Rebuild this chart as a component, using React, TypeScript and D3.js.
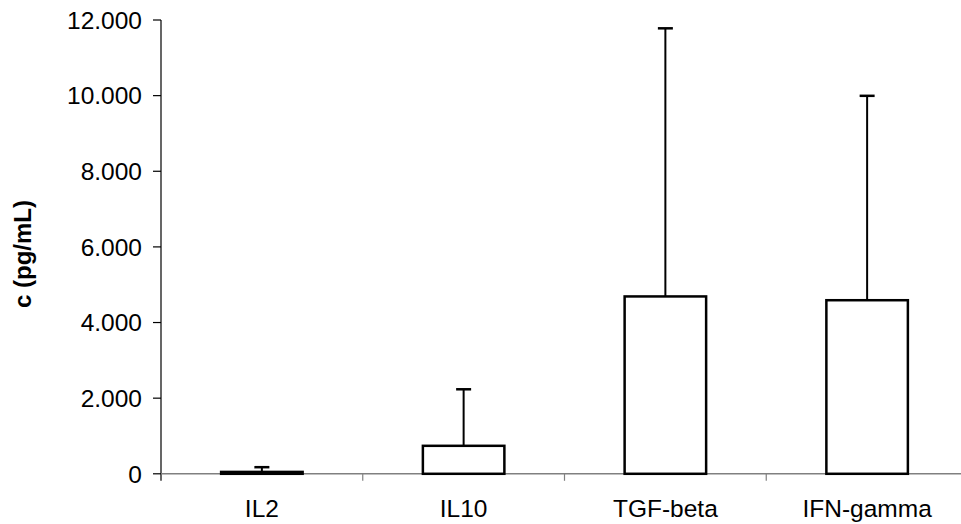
import React from "react";
import * as d3 from "d3";

const categories = ["IL2", "IL10", "TGF-beta", "IFN-gamma"];
const means = [50, 740, 4690, 4590];
const errTops = [175, 2235, 11780, 9995];
const yTicks = [0, 2000, 4000, 6000, 8000, 10000, 12000];
const yTickLabels = ["0", "2.000", "4.000", "6.000", "8.000", "10.000", "12.000"];

const W = 961;
const H = 524;
const FONT = "'Liberation Sans', Arial, sans-serif";

export default function App() {
  const x = d3.scaleBand<string>().domain(categories).range([161, 968]).paddingInner(0.596).paddingOuter(0.298);
  const y = d3.scaleLinear().domain([0, 12000]).range([473.8, 20]);
  const bw = x.bandwidth();
  const step = x.step();
  const x0 = 161;
  const capHalf = 7.5;

  return (
    <svg width={W} height={H} style={{ position: "absolute", left: 0, top: 0, background: "#fff" }} fontFamily={FONT}>
      <line x1={x0} x2={x0} y1={y(12000)} y2={y(0) + 7} stroke="#000" strokeWidth={1.2} />
      {yTicks.map((t, i) => (
        <g key={t}>
          <line x1={x0 - 8} x2={x0} y1={y(t)} y2={y(t)} stroke="#000" strokeWidth={1.2} />
          <text x={x0 - 19} y={y(t)} dy="0.36em" textAnchor="end" fontSize={24.5} fill="#000">
            {yTickLabels[i]}
          </text>
        </g>
      ))}
      <line x1={x0} x2={W} y1={y(0)} y2={y(0)} stroke="#808080" strokeWidth={1.5} />
      {categories.map((c, i) => (
        <line key={"t" + c} x1={x0 + step * (i + 1)} x2={x0 + step * (i + 1)} y1={y(0)} y2={y(0) + 7} stroke="#808080" strokeWidth={1.2} />
      ))}
      {categories.map((c, i) => {
        const cx = (x(c) as number) + bw / 2;
        return (
          <g key={c}>
            <line x1={cx} x2={cx} y1={y(means[i])} y2={y(errTops[i])} stroke="#000" strokeWidth={2} />
            <line x1={cx - capHalf} x2={cx + capHalf} y1={y(errTops[i])} y2={y(errTops[i])} stroke="#000" strokeWidth={2.5} />
            <rect x={x(c)} y={y(means[i])} width={bw} height={y(0) - y(means[i])} fill="#fff" stroke="#000" strokeWidth={2.5} />
          </g>
        );
      })}
      {categories.map((c) => (
        <text key={"l" + c} x={(x(c) as number) + bw / 2} y={517} textAnchor="middle" fontSize={24.5} fill="#000">
          {c}
        </text>
      ))}
      <text transform={`translate(31,254) rotate(-90)`} textAnchor="middle" fontSize={24} fontWeight="bold" fill="#000">
        c (pg/mL)
      </text>
    </svg>
  );
}
